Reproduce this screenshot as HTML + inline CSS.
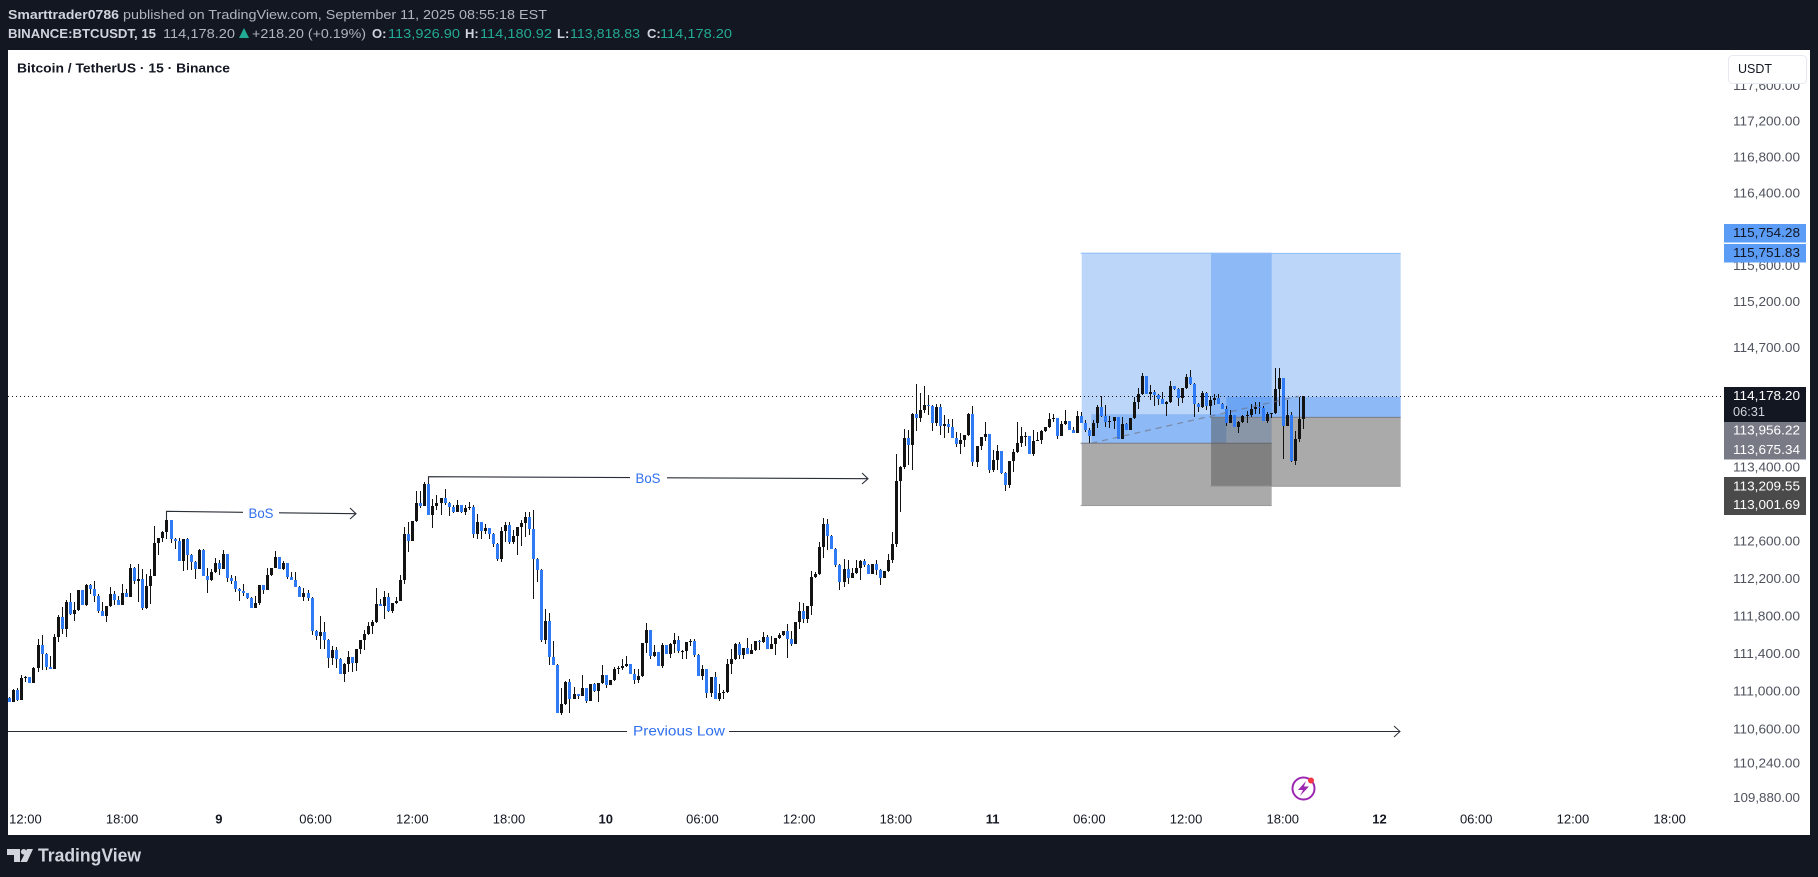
<!DOCTYPE html>
<html lang="en">
<head>
<meta charset="utf-8">
<title>BTCUSDT 15 chart</title>
<style>
html,body{margin:0;padding:0;background:#131722;width:1818px;height:877px;overflow:hidden}
svg{display:block}
text{font-family:"Liberation Sans",sans-serif}
</style>
</head>
<body>
<svg id="chart" xmlns="http://www.w3.org/2000/svg" width="1818" height="877" viewBox="0 0 1818 877">
  <defs><clipPath id="pane-clip"><rect x="8" y="50" width="1714" height="785"/></clipPath></defs>
  <rect x="0" y="0" width="1818" height="877" fill="#131722"/>
  <g font-size="13" fill="#b2b5be">
    <text x="8" y="19" font-weight="700" fill="#d1d4dc" textLength="111" lengthAdjust="spacingAndGlyphs">Smarttrader0786</text>
    <text x="123" y="19" textLength="424" lengthAdjust="spacingAndGlyphs">published on TradingView.com, September 11, 2025 08:55:18 EST</text>
  </g>
  <g font-size="13" fill="#b2b5be">
    <text x="8" y="38" font-weight="700" fill="#d1d4dc" textLength="148" lengthAdjust="spacingAndGlyphs">BINANCE:BTCUSDT, 15</text>
    <text x="163" y="38" textLength="72" lengthAdjust="spacingAndGlyphs">114,178.20</text>
    <polygon points="239,38 249,38 244,28" fill="#22ab94"/>
    <text x="252" y="38" textLength="114" lengthAdjust="spacingAndGlyphs">+218.20 (+0.19%)</text>
    <text x="372" y="38" font-weight="700" fill="#d1d4dc">O:</text>
    <text x="388" y="38" fill="#22ab94" textLength="72" lengthAdjust="spacingAndGlyphs">113,926.90</text>
    <text x="465" y="38" font-weight="700" fill="#d1d4dc">H:</text>
    <text x="480" y="38" fill="#22ab94" textLength="72" lengthAdjust="spacingAndGlyphs">114,180.92</text>
    <text x="557" y="38" font-weight="700" fill="#d1d4dc">L:</text>
    <text x="570" y="38" fill="#22ab94" textLength="70" lengthAdjust="spacingAndGlyphs">113,818.83</text>
    <text x="647" y="38" font-weight="700" fill="#d1d4dc">C:</text>
    <text x="660" y="38" fill="#22ab94" textLength="72" lengthAdjust="spacingAndGlyphs">114,178.20</text>
  </g>
  <rect x="8" y="50" width="1802" height="785" fill="#ffffff"/>
  <g id="drawings" clip-path="url(#pane-clip)"></g>
  <g id="candles" clip-path="url(#pane-clip)" shape-rendering="crispEdges"></g>
  <g id="overlay" clip-path="url(#pane-clip)"></g>
  <g fill="none" stroke="#2a2e39" stroke-width="1.1">
    <path d="M166.5 520V511.3L243 512.3"/>
    <path d="M279 512.8L356 513.7"/>
    <path d="M350 508L356 513.7L350 519"/>
    <text x="261" y="518" font-size="14" fill="#2f6fee" stroke="none" text-anchor="middle" textLength="25" lengthAdjust="spacingAndGlyphs">BoS</text>
  </g>
  <g fill="none" stroke="#2a2e39" stroke-width="1.1">
    <path d="M428.5 483V476.7L630 477.6"/>
    <path d="M667 477.8L868 478.7"/>
    <path d="M862 473L868 478.7L862 484"/>
    <text x="648" y="483" font-size="14" fill="#2f6fee" stroke="none" text-anchor="middle" textLength="25" lengthAdjust="spacingAndGlyphs">BoS</text>
  </g>
  <g fill="none" stroke="#2a2e39" stroke-width="1">
    <path d="M8 731.5H627"/>
    <path d="M729 731.5H1400"/>
    <path d="M1394 726L1400 731.5L1394 737"/>
    <text x="679" y="735.5" font-size="14" fill="#2f6fee" stroke="none" text-anchor="middle" textLength="92" lengthAdjust="spacingAndGlyphs">Previous Low</text>
  </g>
  <g id="time-axis"></g>
  <g id="price-axis"></g>
  <g font-size="13.3">
    <rect x="1724" y="224" width="82" height="18.5" fill="#5b9cf6"/>
    <text x="1733" y="237" fill="#131722" textLength="67" lengthAdjust="spacingAndGlyphs">115,754.28</text>
    <rect x="1724" y="244" width="82" height="18.5" fill="#5b9cf6"/>
    <text x="1733" y="257" fill="#131722" textLength="67" lengthAdjust="spacingAndGlyphs">115,751.83</text>
    <rect x="1724" y="387" width="82" height="35" fill="#131722"/>
    <text x="1733" y="400" fill="#ffffff" textLength="67" lengthAdjust="spacingAndGlyphs">114,178.20</text>
    <text x="1733" y="416" fill="#d1d4dc" textLength="32" lengthAdjust="spacingAndGlyphs">06:31</text>
    <rect x="1724" y="422" width="82" height="37.5" fill="#787b86"/>
    <text x="1733" y="434.5" fill="#ffffff" textLength="67" lengthAdjust="spacingAndGlyphs">113,956.22</text>
    <text x="1733" y="454" fill="#ffffff" textLength="67" lengthAdjust="spacingAndGlyphs">113,675.34</text>
    <rect x="1724" y="477" width="82" height="38" fill="#4a4a4a"/>
    <text x="1733" y="490.5" fill="#ffffff" textLength="67" lengthAdjust="spacingAndGlyphs">113,209.55</text>
    <text x="1733" y="509" fill="#ffffff" textLength="67" lengthAdjust="spacingAndGlyphs">113,001.69</text>
  </g>
  <g>
    <rect x="1728.5" y="55.5" width="78" height="28" rx="4" fill="#ffffff" stroke="#e6e9f0"/>
    <text x="1738" y="73" font-size="12.5" fill="#131722">USDT</text>
  </g>
  <text x="17" y="72.5" font-size="13" font-weight="700" fill="#131722" textLength="213" lengthAdjust="spacingAndGlyphs">Bitcoin / TetherUS · 15 · Binance</text>
  <g>
    <circle cx="1303.5" cy="788.5" r="11" fill="none" stroke="#9c27b0" stroke-width="2"/>
    <polygon points="1306,781 1298,790 1303,790 1300,796 1309,786.5 1304,786.5" fill="#9c27b0"/>
    <circle cx="1311" cy="780.5" r="3" fill="#f23645"/>
  </g>
  <g fill="#d1d4dc">
    <polygon points="7,849 20,849 20,862 14,862 14,855 7,855"/>
    <circle cx="23.7" cy="851.8" r="2.8"/>
    <polygon points="27,849 33,849 27,862 20.5,862"/>
    <text x="38" y="861.5" font-size="18" font-weight="700" textLength="103" lengthAdjust="spacingAndGlyphs">TradingView</text>
  </g>
</svg>
<script>
const firstOpen = 110935;
const closes = [
110896,111020,110914,111147,111161,111098,111253,111498,111406,111264,
111243,111583,111795,111668,111954,111827,111869,112082,111923,112136,
112093,112028,111859,111806,111912,112039,111985,111923,112060,112017,
112320,112179,112201,111891,112125,112240,112590,112644,112708,112838,
112633,112611,112395,112633,112460,112384,112309,112514,112233,112190,
112276,112374,112309,112471,112212,112179,112093,112071,112050,112006,
111891,111944,112136,112082,112244,112320,112438,112309,112374,112222,
112190,112114,112017,112050,112006,111646,111593,111636,111551,111360,
111445,111349,111197,111296,111370,111307,111455,111551,111615,111700,
111742,111933,111912,112017,111859,111944,111974,112190,112687,112611,
112827,113022,112989,113227,112892,112989,113022,113076,113022,112978,
112924,113000,112924,112968,112978,112687,112816,112719,112752,112687,
112579,112417,112719,112784,112600,112665,112762,112806,112870,112741,
112417,112298,111550,111752,111370,111285,110775,110871,111104,110924,
110977,110956,111041,110903,111083,111009,111094,111179,111072,111126,
111242,111253,111274,111296,111189,111126,111168,111519,111657,111380,
111423,111274,111497,111402,111508,111550,111434,111434,111529,111540,
111391,111168,111242,110988,111157,110924,110988,110998,111296,111349,
111508,111391,111465,111402,111444,111540,111529,111582,111455,111508,
111572,111604,111646,111561,111508,111742,111858,111773,111912,112222,
112255,112546,112795,112665,112525,112352,112168,112309,112212,112266,
112320,112395,112352,112255,112363,112298,112212,112287,112406,112579,
113259,113410,113724,113648,113983,113940,114026,114080,114069,113886,
114058,113853,113875,113842,113724,113659,113702,113756,113983,113464,
113637,113734,113767,113378,113486,113583,113346,113216,113475,113572,
113670,113745,113745,113551,113691,113702,113799,113842,113929,113940,
113745,113875,113907,113810,113778,113961,113886,113810,113745,113886,
114058,113961,113896,113907,113950,113713,113875,113810,113940,114112,
114199,114393,114199,114220,114188,114145,114091,114112,114285,114253,
114156,114264,114382,114307,114091,114058,114209,114069,114134,114156,
114091,114037,113886,113972,113842,113896,113961,113972,114037,114058,
114047,113907,113983,113994,114253,114372,113853,113972,113475,113713,
113929,114178];
const highs = [
110949,111030,111048,111186,111176,111158,111264,111561,111604,111413,
111381,111615,111816,111901,111985,112050,111954,112089,112089,112147,
112147,112179,112039,111954,111912,112114,112071,112028,112147,112093,
112363,112330,112363,112309,112255,112309,112773,112644,112719,112935,
112838,112644,112644,112633,112644,112471,112395,112525,112521,112320,
112309,112428,112406,112514,112471,112244,112233,112104,112147,112060,
112017,112028,112136,112136,112320,112320,112503,112438,112395,112374,
112276,112276,112125,112104,112082,112017,111657,111806,111742,111561,
111487,111476,111360,111314,111434,111370,111455,111551,111657,111742,
111763,112104,111996,112071,112060,111944,112017,112244,112762,112816,
112827,113151,113151,113248,113288,113065,113108,113076,113173,113032,
113000,113054,113000,113000,113032,113000,112903,112816,112795,112752,
112698,112590,112762,112816,112816,112730,112762,112838,112924,112924,
112946,112428,112309,111887,111837,111540,111296,111041,111115,111136,
111051,110977,111179,111041,111083,111094,111094,111285,111179,111126,
111264,111274,111349,111380,111296,111242,111242,111519,111731,111657,
111497,111423,111519,111497,111519,111625,111593,111444,111529,111561,
111561,111402,111285,111242,111157,111211,111090,111019,111349,111462,
111519,111533,111465,111572,111508,111540,111550,111635,111604,111593,
111572,111625,111646,111720,111646,111742,111954,111943,111912,112287,
112276,112600,112860,112849,112676,112536,112363,112417,112406,112320,
112406,112406,112417,112363,112363,112406,112309,112287,112471,112708,
113551,113421,113821,113810,113994,114307,114210,114285,114188,114080,
114091,114091,113972,113929,113929,113788,113778,113756,113994,114069,
113637,113734,113896,113767,113594,113648,113583,113356,113475,113605,
113896,113842,113788,113745,113810,113788,113810,113842,113994,113983,
113940,113907,114026,113907,113842,114015,114004,113918,113832,113918,
114080,114177,114080,113961,113950,113950,113950,113886,113940,114166,
114264,114426,114393,114296,114242,114199,114220,114123,114339,114285,
114264,114264,114415,114458,114318,114102,114231,114220,114177,114199,
114199,114102,114069,114026,113972,113907,113972,114015,114091,114112,
114112,114069,114004,113994,114480,114490,114372,114134,114004,113799,
114166,114178];
const lows = [
110896,110896,110907,110914,111108,111098,111098,111215,111232,111236,
111243,111243,111533,111615,111586,111816,111756,111862,111923,111912,
112039,111954,111838,111806,111742,111901,111923,111923,111923,112017,
112017,112147,111954,111869,111880,111933,112233,112460,112600,112633,
112590,112525,112395,112287,112298,112298,112201,112309,112233,112060,
112179,112266,112244,112309,112168,112147,112064,111969,112028,111996,
111891,111891,111923,112046,112082,112233,112320,112309,112298,112201,
112190,112114,112017,111974,111974,111604,111551,111455,111462,111253,
111285,111253,111190,111105,111215,111211,111222,111402,111445,111604,
111615,111731,111912,111774,111852,111838,111933,111965,112147,112492,
112611,112816,112968,112989,112892,112752,112946,112892,113000,112881,
112914,112924,112914,112892,112946,112644,112633,112633,112687,112633,
112546,112395,112384,112600,112579,112579,112460,112557,112654,112676,
111996,112168,111533,111508,111285,111285,110775,110754,110860,110775,
110924,110931,110956,110885,110903,111002,110892,111083,111041,111072,
111115,111189,111232,111264,111189,111083,111094,111157,111412,111349,
111370,111274,111253,111402,111359,111412,111412,111349,111349,111487,
111370,111168,111126,110934,110945,110924,110903,110924,110988,111189,
111338,111349,111349,111402,111402,111434,111444,111519,111455,111455,
111391,111561,111593,111359,111487,111508,111667,111734,111731,111816,
112212,112244,112428,112514,112525,112330,112082,112114,112154,112212,
112255,112190,112334,112255,112255,112244,112136,112212,112276,112374,
112546,112924,113389,113432,113378,113799,113896,113994,113972,113799,
113853,113756,113724,113778,113724,113626,113551,113626,113745,113421,
113410,113594,113691,113346,113356,113378,113335,113151,113184,113356,
113562,113626,113637,113551,113529,113691,113659,113788,113832,113896,
113713,113745,113864,113810,113778,113778,113886,113788,113666,113745,
113832,113954,113842,113832,113821,113713,113713,113810,113810,113929,
114037,114188,114199,114134,114069,114080,114091,113961,114102,114242,
114069,114102,114253,114296,113950,114004,114047,114026,113972,114080,
114091,114037,113853,113886,113842,113778,113886,113886,113950,113983,
113983,113907,113886,113940,113983,114069,113497,113853,113464,113432,
113680,113821];
const priceTicks = [117600,117200,116800,116400,115600,115200,114700,113400,112600,112200,111800,111400,111000,110600,110240,109880];
const timeLabels = ["12:00","18:00","9","06:00","12:00","18:00","10","06:00","12:00","18:00","11","06:00","12:00","18:00","12","06:00","12:00","18:00"];
const boldTimeLabels = ["9","10","11","12"];
const lastPrice = 114178.2;
const positionA = {startBar:266.1, endBar:313.25, target:115754.28, entry:113675.34, stop:113001.69, fillBar:268.5, fillEndBar:302, fillTop:113990};
const positionB = {startBar:298.2, endBar:345.25, target:115751.83, entry:113956.22, stop:113209.55, fillBar:302, fillEndBar:345.25, fillTop:114178.2};

const NS = "http://www.w3.org/2000/svg";
function xScale(i){ return 9.3 + 4.03 * i; }
function yScale(p){ return 122.2 + 10487 * Math.log(117200 / p); }
function yDraw(p){ return yScale(p) + 0.8; }
function add(parent, tag, attrs){
  const el = document.createElementNS(NS, tag);
  for (const k in attrs) el.setAttribute(k, attrs[k]);
  parent.appendChild(el);
  return el;
}

const drawings = document.getElementById('drawings');
[positionA, positionB].forEach(function(pos, n){
  const x0 = xScale(pos.startBar), x1 = xScale(pos.endBar), w = x1 - x0;
  const yT = yDraw(pos.target), yE = yDraw(pos.entry), yS = yDraw(pos.stop);
  const prof = add(drawings, 'rect', {x:x0, y:yT, width:w, height:yE-yT, fill:'rgba(33,120,240,0.3)'});
  
  
  const loss = add(drawings, 'rect', {x:x0, y:yE, width:w, height:yS-yE, fill:'rgba(85,85,85,0.5)'});
  
  
  const fx0 = xScale(pos.fillBar), fx1 = xScale(pos.fillEndBar);
  const yF = yDraw(pos.fillTop);
  const fill = add(drawings, 'rect', {x:fx0, y:yF, width:fx1-fx0, height:yE-yF, fill:'rgba(33,120,240,0.3)'});
  
  
  const top = add(drawings, 'rect', {x:x0-1, y:yT-0.5, width:w+1, height:1, fill:'#90bdf9'});
  
  
  const mid = add(drawings, 'rect', {x:x0-1, y:yE-0.5, width:w+1, height:1, fill:'#787b86'});
  
  
  const bot = add(drawings, 'rect', {x:x0-1, y:yS-0.5, width:w+1, height:1, fill:'#9a9a9a'});
  
  
});

const candleLayer = document.getElementById('candles');
closes.forEach(function(close, i){
  const open = i === 0 ? firstOpen : closes[i-1];
  const up = close >= open;
  const color = up ? '#131313' : '#2f7bf5';
  const cx = Math.round(xScale(i));
  const yH = Math.round(yScale(highs[i]));
  const yL = Math.round(yScale(lows[i]));
  const wick = add(candleLayer, 'rect', {x:cx, y:yH, width:1, height:Math.max(1, yL-yH), fill:'#131313'});
  
  
  const yA = Math.round(yScale(Math.max(open, close)));
  const yB = Math.round(yScale(Math.min(open, close)));
  const body = add(candleLayer, 'rect', {x:cx-1, y:yA, width:3, height:Math.max(1, yB-yA), fill:color});
  
  
});

const overlay = document.getElementById('overlay');
const priceLine = add(overlay, 'line', {x1:8, x2:1722, y1:Math.round(yScale(lastPrice))+0.5, y2:Math.round(yScale(lastPrice))+0.5, stroke:'#131722', 'stroke-width':1, 'stroke-dasharray':'1 3'});


const dashA = add(overlay, 'line', {x1:xScale(268.5), y1:yDraw(positionA.entry), x2:xScale(320), y2:yScale(lastPrice), stroke:'rgba(110,110,120,0.6)', 'stroke-width':1.3, 'stroke-dasharray':'6 5'});



const timeAxis = document.getElementById('time-axis');
timeLabels.forEach(function(label, k){
  const t = add(timeAxis, 'text', {x:xScale(4 + 24 * k), y:823.5, 'font-size':13, 'text-anchor':'middle', fill:'#131722'});
  if (boldTimeLabels.indexOf(label) >= 0) t.setAttribute('font-weight', '700');
  t.textContent = label;
  
  
});

const priceAxis = document.getElementById('price-axis');
priceTicks.forEach(function(p){
  const t = add(priceAxis, 'text', {x:1733, y:yScale(p) + 3.5, 'font-size':13.3, fill:'#50535e', textLength:67, lengthAdjust:'spacingAndGlyphs'});
  t.textContent = p.toLocaleString('en-US', {minimumFractionDigits:2, maximumFractionDigits:2});
  
  
});
</script>
</body>
</html>
